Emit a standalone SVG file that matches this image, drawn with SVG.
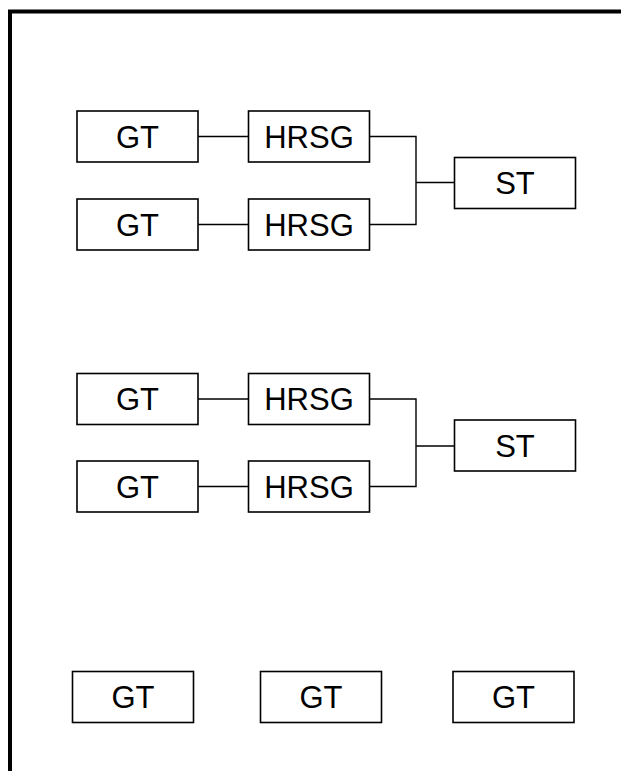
<svg xmlns="http://www.w3.org/2000/svg" width="621" height="771" viewBox="0 0 621 771">
<style>
.box{fill:#fff;stroke:#000;stroke-width:1.6}
.lbl{font-family:"Liberation Sans",Arial,sans-serif;font-size:31px;fill:#000;text-anchor:middle}
.conn{fill:none;stroke:#000;stroke-width:1.4}
.frame{fill:none;stroke:#000;stroke-width:4}
</style>
<rect width="621" height="771" fill="#fff"/>
<path class="frame" d="M10,771 V11.5 H621"/>
<g id="connectors">
<path class="conn" d="M198,136.5 H248.5"/>
<path class="conn" d="M198,224.5 H248.5"/>
<path class="conn" d="M369.5,136.5 H416 V224.5 H369.5"/>
<path class="conn" d="M416,182.5 H454.5"/>
<path class="conn" d="M198,399 H248.5"/>
<path class="conn" d="M198,486.5 H248.5"/>
<path class="conn" d="M369.5,399 H416 V486.5 H369.5"/>
<path class="conn" d="M416,446 H454.5"/>
</g>
<g id="gt1a"><rect class="box" x="77" y="111" width="121" height="51"/><text class="lbl" x="137.5" y="147.5">GT</text></g>
<g id="gt1b"><rect class="box" x="77" y="199" width="121" height="51"/><text class="lbl" x="137.5" y="235.5">GT</text></g>
<g id="hrsg1a"><rect class="box" x="248.5" y="111" width="121" height="51"/><text class="lbl" x="309" y="147.5">HRSG</text></g>
<g id="hrsg1b"><rect class="box" x="248.5" y="199" width="121" height="51"/><text class="lbl" x="309" y="235.5">HRSG</text></g>
<g id="st1"><rect class="box" x="454.5" y="157.5" width="121" height="51"/><text class="lbl" x="515" y="194">ST</text></g>
<g id="gt2a"><rect class="box" x="77" y="373.5" width="121" height="51"/><text class="lbl" x="137.5" y="410">GT</text></g>
<g id="gt2b"><rect class="box" x="77" y="461" width="121" height="51"/><text class="lbl" x="137.5" y="497.5">GT</text></g>
<g id="hrsg2a"><rect class="box" x="248.5" y="373.5" width="121" height="51"/><text class="lbl" x="309" y="410">HRSG</text></g>
<g id="hrsg2b"><rect class="box" x="248.5" y="461" width="121" height="51"/><text class="lbl" x="309" y="497.5">HRSG</text></g>
<g id="st2"><rect class="box" x="454.5" y="420" width="121" height="51"/><text class="lbl" x="515" y="456.5">ST</text></g>
<g id="gt3a"><rect class="box" x="72.5" y="671.5" width="121" height="51"/><text class="lbl" x="133" y="708">GT</text></g>
<g id="gt3b"><rect class="box" x="260.5" y="671.5" width="121" height="51"/><text class="lbl" x="321" y="708">GT</text></g>
<g id="gt3c"><rect class="box" x="453" y="671.5" width="121" height="51"/><text class="lbl" x="513.5" y="708">GT</text></g>
</svg>
